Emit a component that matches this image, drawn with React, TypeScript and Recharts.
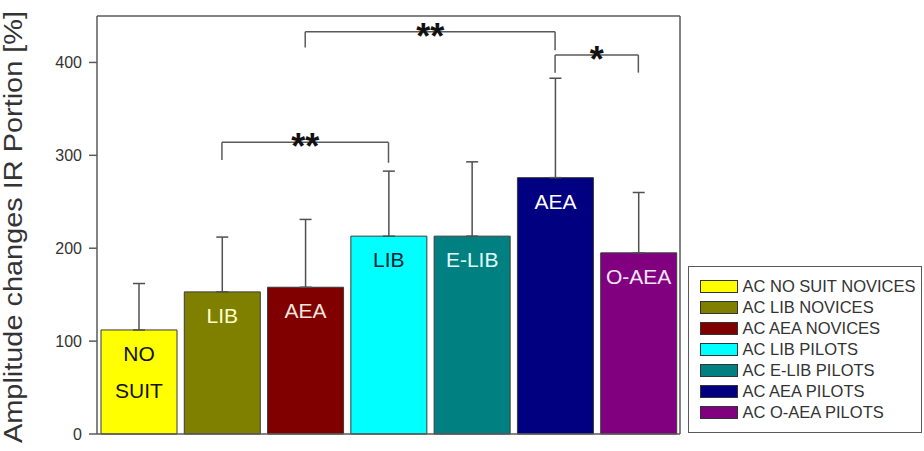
import { Bar, BarChart, Cell, ErrorBar, LabelList, ReferenceLine, XAxis, YAxis } from 'recharts';

// groups, in plotting order
const groups = [
  'NO SUIT NOVICES',
  'LIB NOVICES',
  'AEA NOVICES',
  'LIB PILOTS',
  'E-LIB PILOTS',
  'AEA PILOTS',
  'O-AEA PILOTS',
];
const means = [112, 153, 158, 213, 213, 276, 195];
const sds = [50, 59, 73, 70, 80, 107, 65];
const barLabels = [['NO', 'SUIT'], ['LIB'], ['AEA'], ['LIB'], ['E-LIB'], ['AEA'], ['O-AEA']];
const yTicks = [0, 100, 200, 300, 400];

// significance brackets: from/to group, height of the bar, foot of each leg
const brackets = [
  { from: 'LIB NOVICES', to: 'LIB PILOTS', top: 314, leftFoot: 295, rightFoot: 292, mark: '**' },
  { from: 'AEA NOVICES', to: 'AEA PILOTS', top: 433, leftFoot: 416, rightFoot: 413, mark: '**' },
  { from: 'AEA PILOTS', to: 'O-AEA PILOTS', top: 408, leftFoot: 389, rightFoot: 389, mark: '*' },
];

const fills = ['#ffff00', '#808000', '#800000', '#00ffff', '#008080', '#000080', '#800080'];
const labelInk = ['#111111', '#ffffc8', '#f4e6dc', '#0b2233', '#e2ffff', '#ffffff', '#f6e6f6'];
const frame = '#5a5a5a';
const font = '"Liberation Sans", Arial, sans-serif';

const data = groups.map((g, i) => ({ group: g, mean: means[i], err: [0, sds[i]] }));

function YTitle() {
  return (
    <text
      x={22}
      y={227}
      transform="rotate(-90 22 227)"
      textAnchor="middle"
      fontSize={25}
      fill="#333"
      fontFamily={font}
      textLength={432}
      lengthAdjust="spacingAndGlyphs"
    >
      Amplitude changes IR Portion [%]
    </text>
  );
}

function BarText(props: any) {
  const { x, y, width, index } = props;
  const lines = barLabels[index] || [];
  return (
    <g>
      {lines.map((t, k) => (
        <text
          key={k}
          x={x + width / 2}
          y={y + 31 + k * 37}
          textAnchor="middle"
          fontSize={21}
          fontFamily={font}
          fill={labelInk[index]}
        >
          {t}
        </text>
      ))}
    </g>
  );
}

const starLabel = (mark: string) => (props: any) => {
  const vb = props.viewBox || {};
  return (
    <text
      x={vb.x + vb.width / 2}
      y={vb.y + 17}
      textAnchor="middle"
      fontSize={36}
      fontWeight="bold"
      fontFamily={font}
      fill="#111"
    >
      {mark}
    </text>
  );
};

export default function App() {
  const line = { stroke: frame, strokeWidth: 1.5 };
  return (
    <div style={{ position: 'absolute', left: 0, top: 0, width: 924, height: 451, background: '#fff', fontFamily: font }}>
      <BarChart width={924} height={451} data={data} margin={{ top: 15, right: 243, bottom: 16, left: 0 }} barSize={76}>
        <XAxis dataKey="group" tick={false} tickLine={false} axisLine={line} height={1} />
        <XAxis xAxisId="top" orientation="top" dataKey="group" tick={false} tickLine={false} axisLine={line} height={1} />
        <YAxis
          domain={[0, 450]}
          ticks={yTicks}
          width={97}
          tickSize={8}
          tickMargin={7}
          tickLine={line}
          axisLine={line}
          tick={{ fontSize: 16, fill: '#333', fontFamily: font }}
          label={YTitle}
        />
        <YAxis yAxisId="right" orientation="right" domain={[0, 450]} width={1} tick={false} tickLine={false} axisLine={line} />
        <Bar dataKey="mean" stroke="#3a3a3a" strokeWidth={1} isAnimationActive={false}>
          {data.map((d, i) => (
            <Cell key={d.group} fill={fills[i]} />
          ))}
          <ErrorBar dataKey="err" direction="y" width={6} stroke="#505050" strokeWidth={1.5} isAnimationActive={false} />
          <LabelList dataKey="mean" content={BarText} />
        </Bar>
        {brackets.map((b, i) => [
          <ReferenceLine
            key={`h${i}`}
            segment={[{ x: b.from, y: b.top }, { x: b.to, y: b.top }]}
            stroke={frame}
            strokeWidth={1.5}
            label={starLabel(b.mark)}
          />,
          <ReferenceLine
            key={`l${i}`}
            segment={[{ x: b.from, y: b.top }, { x: b.from, y: b.leftFoot }]}
            stroke={frame}
            strokeWidth={1.5}
          />,
          <ReferenceLine
            key={`r${i}`}
            segment={[{ x: b.to, y: b.top }, { x: b.to, y: b.rightFoot }]}
            stroke={frame}
            strokeWidth={1.5}
          />,
        ])}
      </BarChart>
      <div
        style={{
          position: 'absolute',
          left: 688,
          top: 266,
          width: 234,
          height: 167,
          border: `1.5px solid ${frame}`,
          boxSizing: 'border-box',
        }}
      >
        {groups.map((g, i) => (
          <div
            key={g}
            style={{
              position: 'absolute',
              left: 10.5,
              top: 9 + i * 21,
              height: 21,
              display: 'flex',
              alignItems: 'center',
              whiteSpace: 'nowrap',
            }}
          >
            <span
              style={{
                display: 'inline-block',
                width: 36,
                height: 11,
                background: fills[i],
                border: '1px solid #333',
              }}
            />
            <span style={{ marginLeft: 5, fontSize: 16.5, color: '#333' }}>AC {g}</span>
          </div>
        ))}
      </div>
    </div>
  );
}
